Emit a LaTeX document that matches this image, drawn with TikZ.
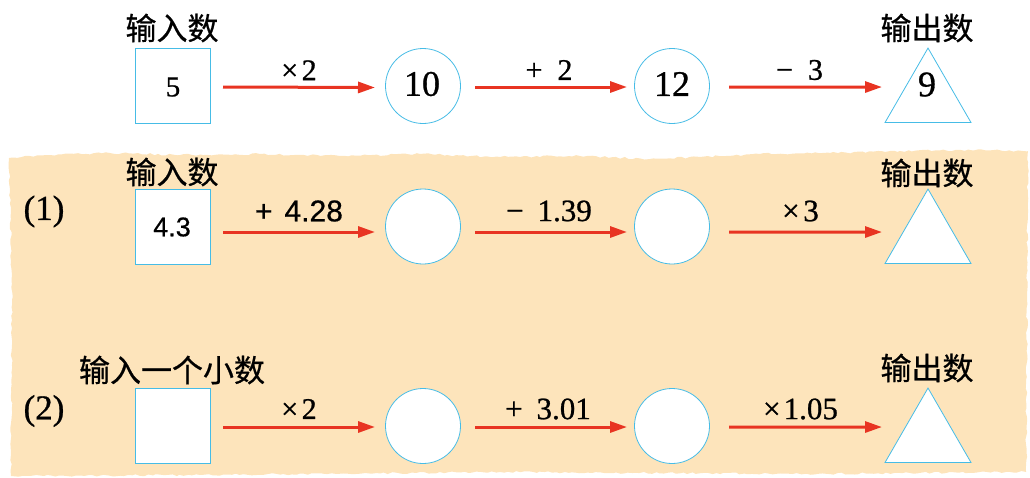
\documentclass[tikz,border=0pt]{standalone}
\usepackage{fontspec}
\setmainfont{Liberation Serif}
\newfontfamily\serifnum[FakeBold=0.8]{Liberation Serif}
\newfontfamily\cjk[FakeBold=0.6]{Noto Sans CJK SC}
\newfontfamily\sansf[FakeBold=0.6]{Liberation Sans}
\usetikzlibrary{arrows.meta,shapes.geometric,decorations.pathmorphing}
\definecolor{peach}{RGB}{253,228,187}
\definecolor{cyanline}{RGB}{70,188,230}
\definecolor{arred}{RGB}{232,52,34}
\tikzset{
  shapeline/.style={draw=cyanline, fill=white, line width=0.8pt, inner sep=0pt, outer sep=0pt},
  sqbox/.style={shapeline, rectangle, minimum size=75pt},
  circbox/.style={shapeline, circle, minimum size=75pt},
  tribox/.style={shapeline, regular polygon, regular polygon sides=3, minimum size=99.3pt},
  arr/.style={draw=arred, line width=3pt, -{Triangle[length=17pt,width=11pt]}},
  cjklab/.style={inner sep=0pt, font=\cjk\fontsize{31}{31}\selectfont},
  oplab/.style={inner sep=0pt, font=\serifnum\fontsize{30}{30}\selectfont},
  oplabb/.style={inner sep=0pt, font=\serifnum\fontsize{31}{31}\selectfont},
  numlab/.style={inner sep=0pt, font=\serifnum\fontsize{36}{36}\selectfont},
  parlab/.style={inner sep=0pt, font=\serifnum\fontsize{35}{35}\selectfont},
}
\begin{document}
\begin{tikzpicture}[x=1pt,y=-1pt]
\useasboundingbox (0,0) rectangle (1030,477);
\pgfmathsetseed{7}
\fill[peach, decorate, decoration={random steps, segment length=4pt, amplitude=1pt}]
  (9,158) -- (50,155) -- (110,153) -- (180,155) -- (260,154) -- (340,156) -- (420,154)
  -- (500,157) -- (580,156) -- (650,159) -- (700,157) -- (760,154) -- (830,153)
  -- (900,151) -- (970,150) -- (1028,151) -- (1027,300) -- (1026,472) -- (800,474)
  -- (500,472) -- (200,475) -- (11,476) -- (12,300) -- cycle;

% ---------- row 0 ----------
\node[sqbox] (s0) at (173,85.5) {};
\node[circbox] (c01) at (423,86) {};
\node[circbox] (c02) at (672,86) {};
\node[tribox] (t0) at (928,97.7) {};
\node[cjklab] (in0) at (172,28) {输入数};
\node[cjklab] (out0) at (927,28) {输出数};
\node[inner sep=0pt, font=\serifnum\fontsize{29}{29}\selectfont] (v0) at (173,87) {5};
\node[numlab] (v01) at (422,84) {10};
\node[numlab] (v02) at (672,84) {12};
\node[numlab] (v03) at (927,84.5) {9};
\draw[arr] ([shift={(12.5,1.5)}]s0.east) -- node[oplab, midway, yshift=17pt] (o01) {×\hspace{0.12em}2} ([shift={(-10.5,1.5)}]c01.west);
\draw[arr] ([shift={(14.5,1)}]c01.east) -- node[oplab, midway, xshift=-2pt, yshift=17pt] (o02) {+\hspace{0.5em}2} ([shift={(-7.5,1)}]c02.west);
\draw[arr] ([shift={(19.5,1)}]c02.east) -- node[oplab, midway, xshift=-6pt, yshift=17pt] (o03) {−\hspace{0.5em}3} ([shift={(-3,-35.5)}]t0.corner 2);

% ---------- row 1 ----------
\node[parlab] (p1) at (44,211.5) {(1)};
\node[sqbox] (s1) at (173,226.5) {};
\node[circbox] (c11) at (423,226.5) {};
\node[circbox] (c12) at (672,226.5) {};
\node[tribox] (t1) at (928,238.7) {};
\node[cjklab] (in1) at (172,172) {输入数};
\node[cjklab] (out1) at (927,173) {输出数};
\node[inner sep=0pt, font=\sansf\fontsize{27}{27}\selectfont] (v1) at (172,227) {4.3};
\draw[arr] ([shift={(12.5,5.5)}]s1.east) -- node[inner sep=0pt, font=\sansf\fontsize{30}{30}\selectfont, midway, yshift=21pt] (o11) {+\hspace{0.4em}4.28} ([shift={(-10.5,5.5)}]c11.west);
\draw[arr] ([shift={(14.5,5.5)}]c11.east) -- node[oplabb, midway, xshift=-2pt, yshift=21pt] (o12) {−\hspace{0.45em}1.39} ([shift={(-7.5,5.5)}]c12.west);
\draw[arr] ([shift={(19.5,5.5)}]c12.east) -- node[oplabb, midway, xshift=-5pt, yshift=21pt] (o13) {×\hspace{0.12em}3} ([shift={(-3,-31.5)}]t1.corner 2);

% ---------- row 2 ----------
\node[parlab] (p2) at (44,411) {(2)};
\node[sqbox] (s2) at (173,425.5) {};
\node[circbox] (c21) at (423,426) {};
\node[circbox] (c22) at (672,426) {};
\node[tribox] (t2) at (928,437.7) {};
\node[cjklab] (in2) at (172,370) {输入一个小数};
\node[cjklab] (out2) at (927,368) {输出数};
\draw[arr] ([shift={(12.5,1.5)}]s2.east) -- node[oplab, midway, yshift=18pt] (o21) {×\hspace{0.12em}2} ([shift={(-10.5,1)}]c21.west);
\draw[arr] ([shift={(14.5,1)}]c21.east) -- node[oplabb, midway, xshift=-3pt, yshift=18pt] (o22) {+\hspace{0.45em}3.01} ([shift={(-7.5,1)}]c22.west);
\draw[arr] ([shift={(19.5,1)}]c22.east) -- node[oplabb, midway, xshift=-5pt, yshift=18pt] (o23) {×\hspace{0.1em}1.05} ([shift={(-3,-35.5)}]t2.corner 2);
\end{tikzpicture}
\end{document}
